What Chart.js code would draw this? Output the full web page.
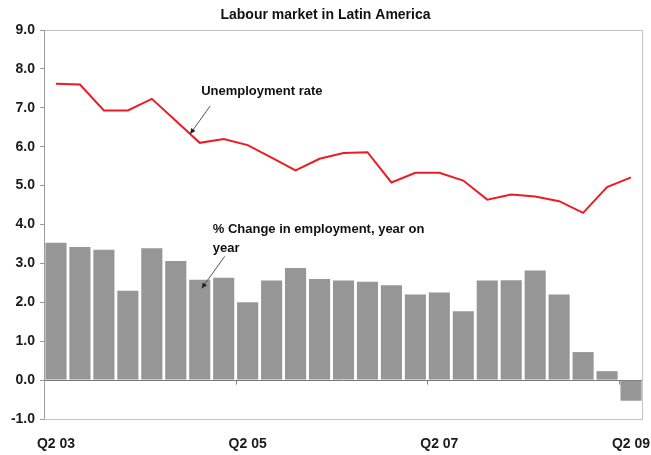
<!DOCTYPE html>
<html>
<head>
<meta charset="utf-8">
<script src="https://cdn.jsdelivr.net/npm/chart.js@4.4.1/dist/chart.umd.min.js"></script>
<style>
html,body{margin:0;padding:0;background:#fff;}
#wrap{width:651px;height:455px;}
</style>
</head>
<body>
<div id="wrap"><canvas id="c" width="651" height="455"></canvas></div>
<script>
const chartTitle = 'Labour market in Latin America';
const categories = ['Q2 03','Q3 03','Q4 03','Q1 04','Q2 04','Q3 04','Q4 04','Q1 05','Q2 05','Q3 05','Q4 05','Q1 06','Q2 06','Q3 06','Q4 06','Q1 07','Q2 07','Q3 07','Q4 07','Q1 08','Q2 08','Q3 08','Q4 08','Q1 09','Q2 09'];
const shownTickLabels = ['Q2 03','Q2 05','Q2 07','Q2 09'];
const employmentChange = [3.53,3.42,3.35,2.30,3.39,3.06,2.58,2.63,2.00,2.56,2.88,2.60,2.56,2.53,2.44,2.20,2.25,1.77,2.56,2.57,2.82,2.20,0.72,0.23,-0.53];
const unemploymentRate = [7.62,7.60,6.93,6.93,7.23,6.67,6.10,6.20,6.04,5.72,5.39,5.69,5.84,5.86,5.08,5.33,5.33,5.13,4.64,4.77,4.72,4.60,4.30,4.96,5.21];
const yTicks = [-1,0,1,2,3,4,5,6,7,8,9];
const unempLabel = 'Unemployment rate';
const emplLabelLines = ['% Change in employment, year on','year'];

const FONT = '"Liberation Sans", Arial, sans-serif';

function arrow(ctx, x1, y1, x2, y2) {
  ctx.save();
  ctx.strokeStyle = '#555';
  ctx.fillStyle = '#222';
  ctx.lineWidth = 1;
  ctx.beginPath(); ctx.moveTo(x1, y1); ctx.lineTo(x2, y2); ctx.stroke();
  const a = Math.atan2(y2 - y1, x2 - x1), L = 6, w = 0.45;
  ctx.beginPath();
  ctx.moveTo(x2, y2);
  ctx.lineTo(x2 - L * Math.cos(a - w), y2 - L * Math.sin(a - w));
  ctx.lineTo(x2 - L * Math.cos(a + w), y2 - L * Math.sin(a + w));
  ctx.closePath(); ctx.fill();
  ctx.restore();
}

const decor = {
  id: 'decor',
  beforeDatasetsDraw(chart) {
    const {ctx, chartArea: a, scales} = chart;
    ctx.save();
    ctx.strokeStyle = '#c4c4c4';
    ctx.lineWidth = 1;
    ctx.strokeRect(a.left + 0.5, a.top + 0.5, a.right - a.left - 1, a.bottom - a.top);
    ctx.strokeStyle = '#9a9a9a';
    ctx.beginPath(); ctx.moveTo(a.left + 0.5, a.top); ctx.lineTo(a.left + 0.5, a.bottom); ctx.stroke();
    const y0 = Math.round(scales.y.getPixelForValue(0)) + 0.5;
    const half = (scales.x.getPixelForValue(1) - scales.x.getPixelForValue(0)) / 2;
    ctx.strokeStyle = '#808080';
    categories.forEach((c, i) => {
      if (i > 0 && shownTickLabels.includes(c)) {
        const x = Math.round(scales.x.getPixelForValue(i) - half) + 0.5;
        ctx.beginPath(); ctx.moveTo(x, y0); ctx.lineTo(x, y0 + 4); ctx.stroke();
      }
    });
    ctx.restore();
  },
  afterDatasetsDraw(chart) {
    const {ctx, scales} = chart;
    const xs = scales.x, ys = scales.y;
    ctx.save();
    ctx.fillStyle = '#111';
    ctx.font = 'bold 14px ' + FONT;
    ctx.textAlign = 'center';
    ctx.textBaseline = 'middle';
    ctx.fillText(chartTitle, chart.width / 2, 15);
    const t = 0.6;
    const tipX = xs.getPixelForValue(5) + t * (xs.getPixelForValue(6) - xs.getPixelForValue(5));
    const tipY = ys.getPixelForValue(unemploymentRate[5] + t * (unemploymentRate[6] - unemploymentRate[5]));
    arrow(ctx, tipX + 20, tipY - 28, tipX, tipY);
    ctx.font = 'bold 13px ' + FONT;
    ctx.textAlign = 'left';
    ctx.fillStyle = '#111';
    ctx.fillText(unempLabel, tipX + 11, tipY - 43);
    const bx = xs.getPixelForValue(6) + 2;
    const by = ys.getPixelForValue(employmentChange[6] - 0.22);
    arrow(ctx, bx + 23, by - 32, bx, by);
    ctx.fillText(emplLabelLines[0], bx + 11, by - 59);
    ctx.fillText(emplLabelLines[1], bx + 11, by - 40);
    ctx.restore();
  }
};

new Chart(document.getElementById('c'), {
  data: {
    labels: categories,
    datasets: [
      {
        type: 'line',
        label: unempLabel,
        data: unemploymentRate,
        borderColor: '#ec1c24',
        borderWidth: 2,
        pointRadius: 0,
        tension: 0,
        fill: false,
        order: 0
      },
      {
        type: 'bar',
        label: emplLabelLines.join(' '),
        data: employmentChange,
        backgroundColor: '#969696',
        borderWidth: 0,
        categoryPercentage: 1.0,
        barPercentage: 0.88,
        order: 1
      }
    ]
  },
  options: {
    responsive: false,
    animation: false,
    layout: {padding: {top: 30, right: 8, left: 0, bottom: 0}},
    plugins: {legend: {display: false}, tooltip: {enabled: false}, title: {display: false}},
    scales: {
      x: {
        type: 'category',
        offset: true,
        grid: {display: false, drawTicks: false},
        border: {display: false},
        ticks: {
          autoSkip: false,
          maxRotation: 0,
          padding: 17,
          color: '#1a1a1a',
          font: {family: FONT, size: 14, weight: 'bold'},
          callback: function(v, i) { const l = categories[i]; return shownTickLabels.includes(l) ? l : ''; }
        },
        afterFit(s) { s.height = 36; s.paddingLeft = 0; s.paddingRight = 0; }
      },
      y: {
        min: -1, max: 9,
        afterBuildTicks(s) { s.ticks = yTicks.map(v => ({value: v})); },
        grid: {
          drawOnChartArea: true,
          drawTicks: true,
          tickLength: 4,
          tickColor: '#9a9a9a',
          color: ctx => (ctx.tick && ctx.tick.value === 0) ? '#7a7a7a' : 'rgba(0,0,0,0)',
          lineWidth: 1
        },
        border: {display: false},
        ticks: {
          padding: 5,
          color: '#1a1a1a',
          font: {family: FONT, size: 14, weight: 'bold'},
          callback: v => Number(v).toFixed(1)
        },
        afterFit(s) { s.width = 44; s.paddingTop = 0; s.paddingBottom = 0; }
      }
    }
  },
  plugins: [decor]
});
</script>
</body>
</html>
